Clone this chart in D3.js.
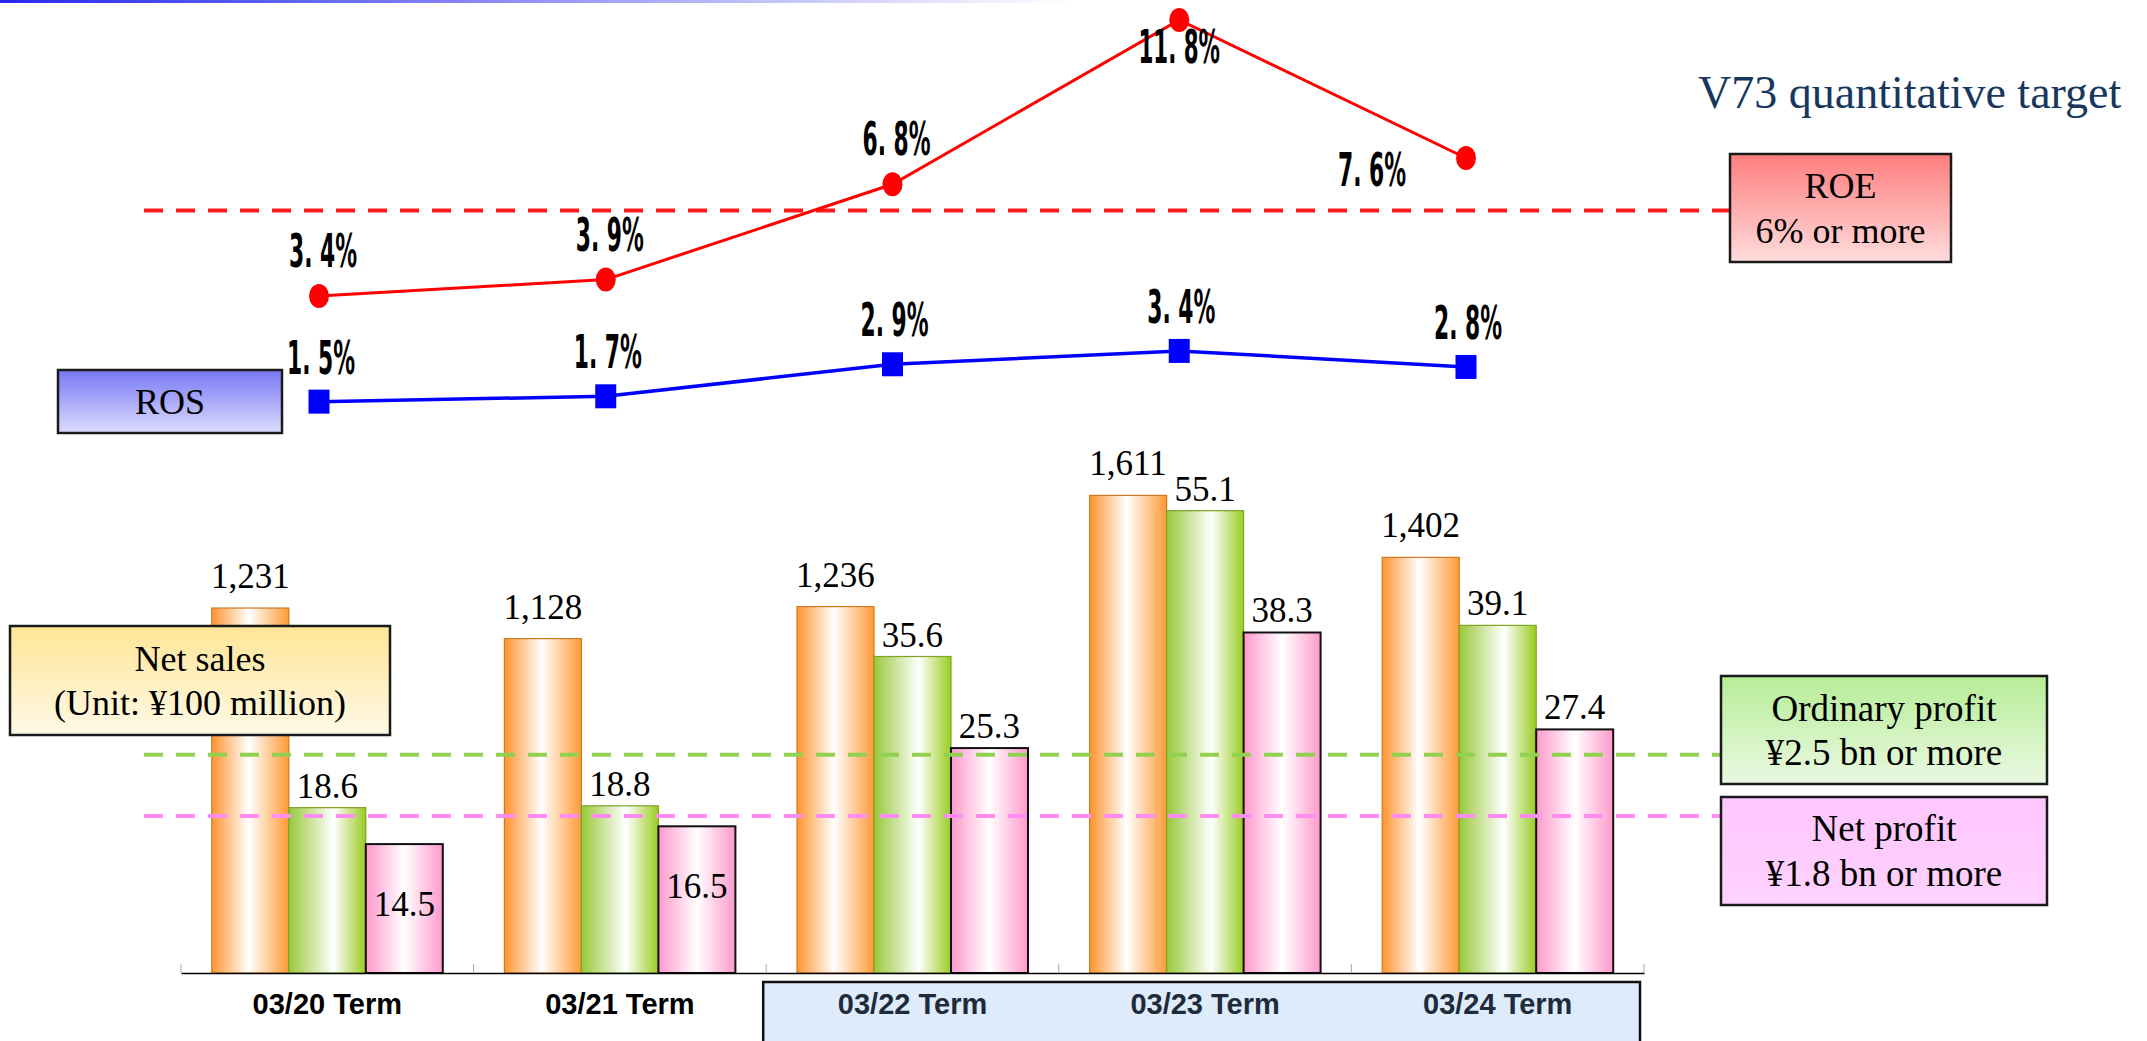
<!DOCTYPE html>
<html>
<head>
<meta charset="utf-8">
<script src="https://cdn.jsdelivr.net/npm/d3@7"></script>
<style>
  body { margin: 0; background: #fff; }
  svg { display: block; }
</style>
</head>
<body>
<svg id="chart" width="2147" height="1041"></svg>
<script>
// data
var terms = ["03/20 Term", "03/21 Term", "03/22 Term", "03/23 Term", "03/24 Term"];
var netSales = [1231, 1128, 1236, 1611, 1402];        // unit: 100 million yen
var ordinaryProfit = [18.6, 18.8, 35.6, 55.1, 39.1];
var netProfit = [14.5, 16.5, 25.3, 38.3, 27.4];
var roe = [3.4, 3.9, 6.8, 11.8, 7.6];
var ros = [1.5, 1.7, 2.9, 3.4, 2.8];

// V73 targets
var roeTarget = 6;
var ordinaryTarget = 25;
var netTarget = 18;

var highlighted = ["03/22 Term", "03/23 Term", "03/24 Term"];

var svg = d3.select("#chart");
var defs = svg.append("defs");

function hGrad(id, edgeL, mid, edgeR, midAt) {
    var g = defs.append("linearGradient").attr("id", id)
        .attr("x1", "0%").attr("x2", "100%").attr("y1", "0%").attr("y2", "0%");
    g.append("stop").attr("offset", "0%").attr("stop-color", edgeL);
    g.append("stop").attr("offset", midAt).attr("stop-color", mid);
    g.append("stop").attr("offset", "100%").attr("stop-color", edgeR);
}
function vGrad(id, top, bottom) {
    var g = defs.append("linearGradient").attr("id", id)
        .attr("x1", "0%").attr("x2", "0%").attr("y1", "0%").attr("y2", "100%");
    g.append("stop").attr("offset", "0%").attr("stop-color", top);
    g.append("stop").attr("offset", "100%").attr("stop-color", bottom);
}
hGrad("gOrange", "#FF9430", "#FFFFFF", "#FF9A38", "48%");
hGrad("gGreen", "#98C83A", "#FFFFFF", "#99CC22", "58%");
hGrad("gPink", "#FF99CC", "#FFFFFF", "#FF99CC", "50%");
hGrad("gTop", "#2828EE", "#FFFFFF", "#FFFFFF", "50%");
vGrad("bRos", "#7878F4", "#DCDCFF");
vGrad("bRoe", "#FF7E7E", "#FFDCDC");
vGrad("bSales", "#FFE596", "#FFF9E6");
vGrad("bOrd", "#B6EC96", "#EAF9E2");
vGrad("bNet", "#FFC6FF", "#FFD2FF");

// thin header rule
svg.append("rect").attr("x", 0).attr("y", 0).attr("width", 2147).attr("height", 3)
    .attr("fill", "url(#gTop)");

// ---- scales ----
var x0 = d3.scaleBand().domain(terms).range([181, 1644]).padding(0);
var x1 = d3.scaleBand().domain(["sales", "ordinary", "net"])
    .range([0, x0.bandwidth()]).paddingInner(0).paddingOuter(0.4);
var ySales = d3.scaleLinear().domain([0, 1700]).range([973, 469]);
var yProfit = d3.scaleLinear().domain([0, 52]).range([973, 510.7]).clamp(true);

var xLine = d3.scalePoint().domain(terms).range([319, 1466]);
var yRoe = d3.scaleLinear().domain([0, 12]).range([407.7, 13.4]);
var yRos = d3.scaleLinear().domain([0, 4]).range([441.7, 334.9]);

var serif = "'Liberation Serif', 'Times New Roman', serif";
var narrow = "'Liberation Sans Narrow', 'DejaVu Sans Condensed', 'Arial Narrow', sans-serif";

// ---- highlighted period box under the axis ----
svg.append("rect")
    .attr("x", x0(highlighted[0]) - 3)
    .attr("y", 982)
    .attr("width", x0(highlighted[2]) + x0.bandwidth() - x0(highlighted[0]) - 1)
    .attr("height", 80)
    .attr("fill", "#DDEBFB")
    .attr("stroke", "#111")
    .attr("stroke-width", 2.5);

// ---- bars ----
var rows = terms.map(function(t, i) {
    return { term: t, bars: [
        { key: "sales", value: netSales[i], y: ySales, fill: "url(#gOrange)", stroke: "#D07A20", fmt: d3.format(",") },
        { key: "ordinary", value: ordinaryProfit[i], y: yProfit, fill: "url(#gGreen)", stroke: "#7FA322", fmt: d3.format(".1f") },
        { key: "net", value: netProfit[i], y: yProfit, fill: "url(#gPink)", stroke: "#111", fmt: d3.format(".1f") }
    ]};
});

var groups = svg.append("g").selectAll("g")
    .data(rows).enter().append("g")
    .attr("transform", function(d) { return "translate(" + x0(d.term) + ",0)"; });

groups.selectAll("rect")
    .data(function(d) { return d.bars; })
    .enter().append("rect")
    .attr("x", function(d) { return x1(d.key); })
    .attr("y", function(d) { return d.y(d.value); })
    .attr("width", x1.bandwidth())
    .attr("height", function(d) { return d.y(0) - d.y(d.value); })
    .attr("fill", function(d) { return d.fill; })
    .attr("stroke", function(d) { return d.stroke; })
    .attr("stroke-width", function(d) { return d.key == "net" ? 2 : 1.2; });

groups.selectAll("text")
    .data(function(d) { return d.bars; })
    .enter().append("text")
    .attr("x", function(d) { return x1(d.key) + x1.bandwidth() / 2; })
    .attr("y", function(d) {
        var top = d.y(d.value);
        if (d.key == "net" && d.value < netTarget) return top + 72;   // sits inside the bar
        return d.key == "sales" ? top - 20 : top - 10;
    })
    .attr("text-anchor", "middle")
    .attr("font-family", serif)
    .attr("font-size", 35)
    .attr("fill", "#000")
    .text(function(d) { return d.fmt(d.value); });

// ---- x axis ----
var xAxis = svg.append("g")
    .attr("transform", "translate(0,973)")
    .call(d3.axisBottom(x0).tickSizeInner(0).tickSizeOuter(0).tickPadding(20));
xAxis.select(".domain").attr("stroke", "#000").attr("stroke-width", 1.5);
xAxis.selectAll("text")
    .attr("font-family", "'Liberation Sans', Arial, sans-serif")
    .attr("font-weight", "bold")
    .attr("font-size", 29)
    .attr("fill", function(d) { return highlighted.indexOf(d) >= 0 ? "#1F2B3A" : "#000"; });

var bounds = terms.map(function(t) { return x0(t); }).concat([x0.range()[1]]);
svg.append("g").selectAll("line")
    .data(bounds).enter().append("line")
    .attr("x1", function(d) { return d; }).attr("x2", function(d) { return d; })
    .attr("y1", 973).attr("y2", 964)
    .attr("stroke", "#AAA").attr("stroke-width", 1);

// ---- target lines ----
function targetLine(y, x2, color) {
    svg.append("line")
        .attr("x1", 144).attr("x2", x2)
        .attr("y1", y).attr("y2", y)
        .attr("stroke", color)
        .attr("stroke-width", 4)
        .attr("stroke-dasharray", "19,13");
}
targetLine(yRoe(roeTarget), 1730, "#FF1A1A");
targetLine(yProfit(ordinaryTarget) + 4, 1721, "#92D050");
targetLine(yProfit(netTarget) + 3, 1721, "#FF8CF0");

// ---- ROE / ROS lines ----
var pctFmt = function(v) { return d3.format(".1f")(v).replace(".", ". ") + "%"; };

var roeLine = d3.line().x(function(d, i) { return xLine(terms[i]); }).y(function(d) { return yRoe(d); });
var rosLine = d3.line().x(function(d, i) { return xLine(terms[i]); }).y(function(d) { return yRos(d); });

svg.append("path").datum(roe).attr("d", roeLine)
    .attr("fill", "none").attr("stroke", "#FF0000").attr("stroke-width", 3);
svg.append("path").datum(ros).attr("d", rosLine)
    .attr("fill", "none").attr("stroke", "#0000FF").attr("stroke-width", 3.5);

svg.append("g").selectAll("ellipse")
    .data(roe).enter().append("ellipse")
    .attr("cx", function(d, i) { return xLine(terms[i]); })
    .attr("cy", function(d) { return yRoe(d); })
    .attr("rx", 10).attr("ry", 12)
    .attr("fill", "#FF0000");

svg.append("g").selectAll("rect")
    .data(ros).enter().append("rect")
    .attr("x", function(d, i) { return xLine(terms[i]) - 10.5; })
    .attr("y", function(d) { return yRos(d) - 12; })
    .attr("width", 21).attr("height", 24)
    .attr("fill", "#0000FF");

// label side for each ROE point (peak goes under, last one to the left)
var roeLabelSide = ["top", "top", "top", "bottom", "left"];

function pctLabel(x, y, txt) {
    svg.append("text")
        .attr("x", x).attr("y", y)
        .attr("text-anchor", "middle")
        .attr("font-family", narrow)
        .attr("font-weight", "bold")
        .attr("font-size", 47)
        .attr("textLength", txt.length * 13.6)
        .attr("lengthAdjust", "spacingAndGlyphs")
        .attr("fill", "#000")
        .text(txt);
}
roe.forEach(function(v, i) {
    var x = xLine(terms[i]), y = yRoe(v);
    var side = roeLabelSide[i];
    if (side == "bottom") pctLabel(x, y + 43, pctFmt(v));
    else if (side == "left") pctLabel(x - 94, y + 28, pctFmt(v));
    else pctLabel(x + 4, y - 29, pctFmt(v));
});
ros.forEach(function(v, i) {
    pctLabel(xLine(terms[i]) + 2, yRos(v) - 28, pctFmt(v));
});

// ---- caption boxes ----
function box(x, y, w, h, fill, lines, baselines, size) {
    svg.append("rect").attr("x", x).attr("y", y).attr("width", w).attr("height", h)
        .attr("fill", fill).attr("stroke", "#1A1A1A").attr("stroke-width", 2.5);
    lines.forEach(function(t, i) {
        svg.append("text")
            .attr("x", x + w / 2).attr("y", y + baselines[i])
            .attr("text-anchor", "middle")
            .attr("font-family", serif)
            .attr("font-size", size)
            .attr("fill", "#000")
            .text(t);
    });
}
box(58, 370, 224, 63, "url(#bRos)", ["ROS"], [44], 36);
box(1730, 154, 221, 108, "url(#bRoe)", ["ROE", "6% or more"], [44, 89], 36);
box(10, 626, 380, 109, "url(#bSales)", ["Net sales", "(Unit: \u00A5100 million)"], [45, 89], 36);
box(1721, 676, 326, 108, "url(#bOrd)", ["Ordinary profit", "\u00A52.5 bn or more"], [45, 89], 37);
box(1721, 797, 326, 108, "url(#bNet)", ["Net profit", "\u00A51.8 bn or more"], [44, 89], 37);

svg.append("text")
    .attr("x", 1698).attr("y", 108)
    .attr("font-family", serif)
    .attr("font-size", 46)
    .attr("fill", "#17375E")
    .text("V73 quantitative target");
</script>
</body>
</html>
